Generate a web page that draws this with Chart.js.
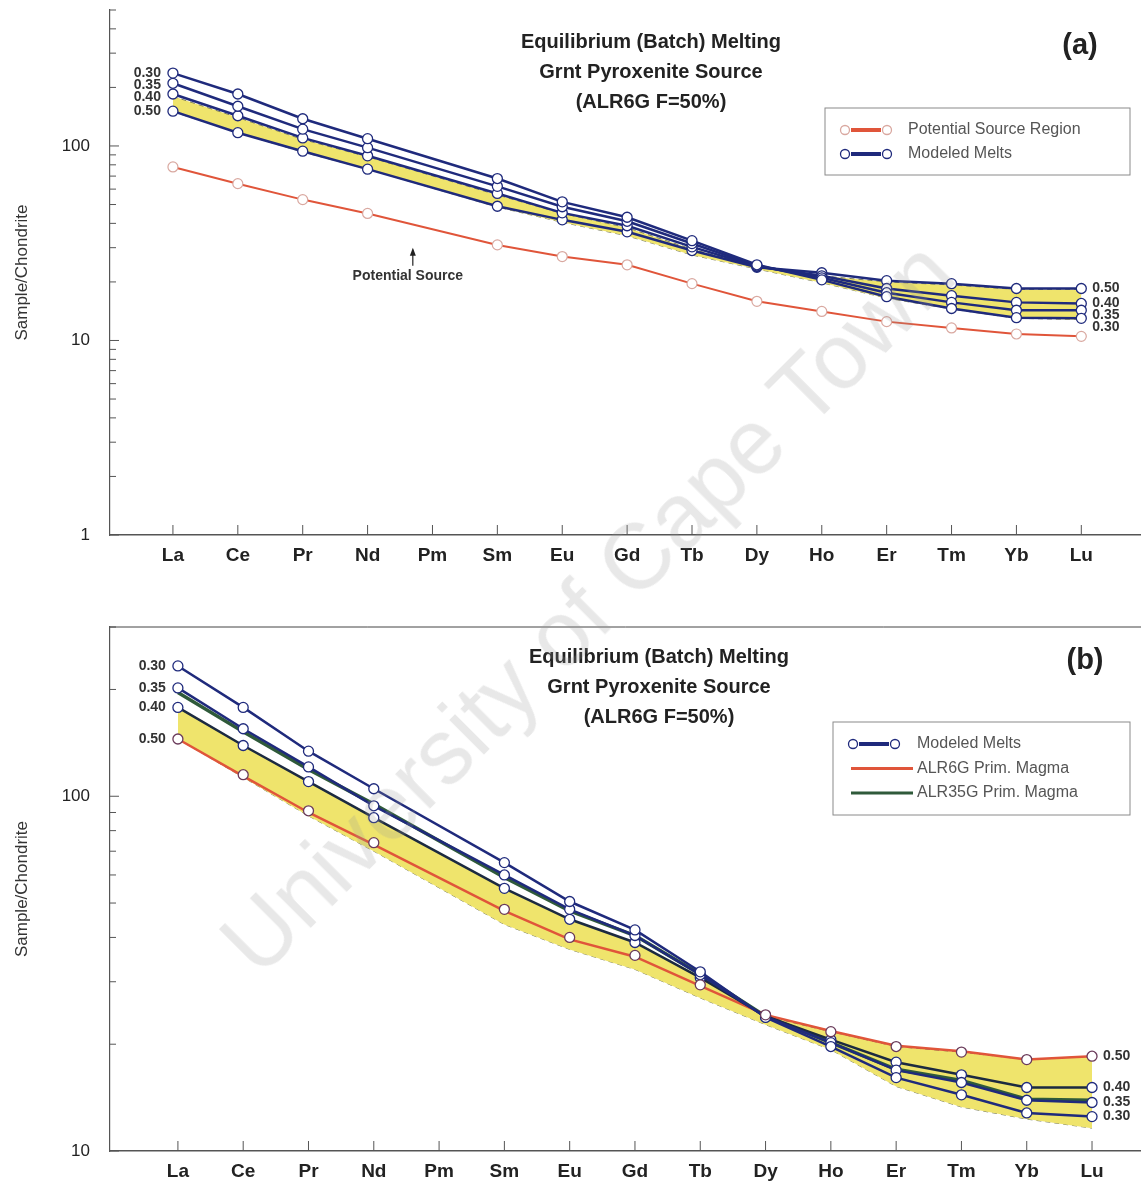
<!DOCTYPE html>
<html>
<head>
<meta charset="utf-8">
<script src="https://cdn.jsdelivr.net/npm/chart.js@4.4.0/dist/chart.umd.min.js"></script>
<style>
  body { margin: 0; background: #fff; }
  #wrap { position: relative; width: 1141px; height: 1182px; overflow: hidden; }
  .panel { position: absolute; left: 0; width: 1141px; }
  #pa { top: 0; height: 590px; }
  #pb { top: 590px; height: 592px; }
  #wm {
    position: absolute; left: 587px; top: 607px;
    transform: translate(-50%, -50%) rotate(-45deg);
    font: 92px "Liberation Sans", Arial, sans-serif;
    color: rgba(150, 150, 150, 0.22);
    white-space: nowrap; pointer-events: none;
  }
</style>
</head>
<body>
<div id="wrap">
  <div class="panel" id="pa"><canvas id="chartA"></canvas></div>
  <div class="panel" id="pb"><canvas id="chartB"></canvas></div>
  <div id="wm">University of Cape Town</div>
</div>
<script>
const elements = ['La', 'Ce', 'Pr', 'Nd', 'Pm', 'Sm', 'Eu', 'Gd', 'Tb', 'Dy', 'Ho', 'Er', 'Tm', 'Yb', 'Lu'];

// panel (a) values, Pm not analysed
const sourceA = [78, 64, 53, 45, null, 31, 27, 24.5, 19.6, 15.9, 14.1, 12.5, 11.6, 10.8, 10.5];
const meltA30 = [237, 185, 138, 109, null, 68, 51.6, 43, 32.6, 24.5, 20.5, 16.8, 14.6, 13.1, 13.0];
const meltA35 = [210, 160, 122, 98, null, 62, 48.7, 41, 31.5, 24.2, 21, 17.6, 15.7, 14.3, 14.3];
const meltA40 = [185, 143, 110, 89, null, 57, 45.3, 38.9, 30.3, 24, 21.5, 18.5, 17, 15.7, 15.5];
const meltA50 = [151, 117, 94, 76, null, 49, 41.7, 36.2, 29, 23.8, 22.3, 20.3, 19.6, 18.5, 18.5];
const fieldAHigh = [180, 140, 108, 88, null, 56, 45, 38, 29.5, 24, 21.5, 20, 19.3, 18.3, 18.3];
const fieldALow = [150, 117, 93, 76, null, 48.5, 40.5, 34.5, 27.5, 23.3, 19.8, 16.5, 14.5, 13, 12.8];

// panel (b) values
const meltB30 = [233, 178, 134, 105, null, 65, 50.5, 42, 32, 23.8, 19.7, 16.1, 14.4, 12.8, 12.5];
const meltB35 = [202, 155, 121, 94, null, 60, 48, 40.5, 31.4, 23.9, 20.2, 16.9, 15.6, 13.9, 13.7];
const meltB40 = [178, 139, 110, 87, null, 55, 45, 38.7, 30.8, 24, 20.6, 17.8, 16.4, 15.1, 15.1];
const meltB50 = [145, 115, 91, 74, null, 48, 40, 35.6, 29.4, 24.2, 21.7, 19.7, 19, 18.1, 18.5];
const alr6g = [145, 114, 90, 73, null, 47.5, 39.5, 35.3, 29.2, 24.2, 21.8, 19.8, 19.1, 18.1, 18.5];
const alr35g = [196, 152, 119, 95, null, 59, 47.5, 40.5, 31.5, 24, 20.2, 17, 15.8, 14, 13.9];
const fieldBHigh = [178, 139, 110, 87, null, 55, 45, 38.7, 30.8, 24, 21.7, 19.7, 19, 18.1, 18.5];
const fieldBLow = [145, 113, 88, 70, null, 43.5, 37, 32.5, 27, 22.7, 19.3, 15.2, 13.3, 12.3, 11.6];

const yTicksA = [1, 2, 3, 4, 5, 6, 7, 8, 9, 10, 20, 30, 40, 50, 60, 70, 80, 90, 100, 200, 300, 400, 500];
const yTicksB = [10, 20, 30, 40, 50, 60, 70, 80, 90, 100, 200, 300];

const FONT = '"Liberation Sans", Arial, sans-serif';
const NAVY = '#1f2a7c';
const RED = '#e0553a';
const GREEN = '#2f5a3a';
const YELLOW = '#efe46c';

const xy = arr => arr.map((v, i) => ({ x: i, y: v }));

function melt(label, arr, extra) {
  return Object.assign({
    label: label, data: xy(arr), borderColor: NAVY, borderWidth: 2.5,
    pointRadius: 5, pointBackgroundColor: '#fff', pointBorderColor: NAVY,
    pointBorderWidth: 1.3, spanGaps: true, tension: 0
  }, extra || {});
}
function field(arr, fill) {
  return {
    data: xy(arr), borderColor: 'rgba(95,100,70,0.8)', borderWidth: 1, borderDash: [5, 4],
    backgroundColor: YELLOW, fill: fill, pointRadius: 0, spanGaps: true
  };
}

// draws tick marks pointing into the plot, the f labels, titles, legend
const decor = {
  id: 'decor',
  afterDraw(chart, args, o) {
    const ctx = chart.ctx, x = chart.scales.x, y = chart.scales.y, ca = chart.chartArea;
    ctx.save();
    ctx.strokeStyle = '#555';
    ctx.lineWidth = 1;
    x.ticks.forEach(t => {
      const px = x.getPixelForValue(t.value);
      ctx.beginPath(); ctx.moveTo(px, ca.bottom); ctx.lineTo(px, ca.bottom - 10); ctx.stroke();
    });
    y.ticks.forEach(t => {
      const py = y.getPixelForValue(t.value);
      const major = Math.log10(t.value) % 1 === 0;
      ctx.beginPath(); ctx.moveTo(ca.left, py); ctx.lineTo(ca.left + (major ? 9 : 6), py); ctx.stroke();
    });
    if (o.topLine) {
      ctx.strokeStyle = '#444';
      ctx.beginPath(); ctx.moveTo(ca.left, ca.top); ctx.lineTo(ca.right, ca.top); ctx.stroke();
    }

    // F labels beside the first and last points
    ctx.fillStyle = '#333';
    ctx.font = 'bold 14px ' + FONT;
    ctx.textBaseline = 'middle';
    const side = (idx, align, dx) => {
      const items = o.fLabels.map(f => ({
        text: f.text,
        py: y.getPixelForValue(chart.data.datasets[f.ds].data[idx].y)
      })).sort((a, b) => a.py - b.py);
      for (let i = 1; i < items.length; i++) {
        if (items[i].py - items[i - 1].py < 12) items[i].py = items[i - 1].py + 12;
      }
      ctx.textAlign = align;
      items.forEach(it => ctx.fillText(it.text, x.getPixelForValue(idx) + dx, it.py));
    };
    side(0, 'right', -12);
    side(elements.length - 1, 'left', 11);

    // titles
    ctx.fillStyle = '#222';
    ctx.textAlign = 'center';
    ctx.font = 'bold 20px ' + FONT;
    o.title.forEach((line, i) => ctx.fillText(line, o.titleX, o.titleY + i * 30));
    ctx.font = 'bold 29px ' + FONT;
    ctx.fillText(o.tag, o.tagX, o.tagY);

    // legend box
    const L = o.legend;
    ctx.strokeStyle = '#8a8a8a';
    ctx.lineWidth = 1;
    ctx.strokeRect(L.x, L.y, L.w, L.h);
    ctx.font = '16px ' + FONT;
    ctx.textAlign = 'left';
    L.items.forEach((it, i) => {
      const yy = L.y + L.first + i * L.step;
      const x0 = L.x + 18;
      ctx.strokeStyle = it.color;
      ctx.lineWidth = it.markers ? 4 : 3;
      ctx.beginPath(); ctx.moveTo(x0 + (it.markers ? 8 : 0), yy); ctx.lineTo(x0 + (it.markers ? 38 : 62), yy); ctx.stroke();
      if (it.markers) {
        ctx.lineWidth = 1.3;
        ctx.strokeStyle = it.ring;
        [x0 + 2, x0 + 44].forEach(cx => {
          ctx.fillStyle = '#fff';
          ctx.beginPath(); ctx.arc(cx, yy, 4.5, 0, Math.PI * 2); ctx.fill(); ctx.stroke();
        });
      }
      ctx.fillStyle = '#555';
      ctx.fillText(it.text, L.x + L.textDx, yy);
    });

    // "Potential Source" note with arrow
    if (o.note) {
      const nx = x.getPixelForValue(o.note.x), ny = y.getPixelForValue(o.note.y);
      ctx.fillStyle = '#333';
      ctx.textAlign = 'center';
      ctx.font = 'bold 14px ' + FONT;
      ctx.fillText(o.note.text, nx, ny);
      ctx.strokeStyle = '#222'; ctx.lineWidth = 1.2;
      ctx.beginPath(); ctx.moveTo(nx + 5, ny - 10); ctx.lineTo(nx + 5, ny - 26); ctx.stroke();
      ctx.fillStyle = '#222';
      ctx.beginPath(); ctx.moveTo(nx + 5, ny - 28); ctx.lineTo(nx + 2, ny - 20); ctx.lineTo(nx + 8, ny - 20); ctx.fill();
    }
    ctx.restore();
  }
};

function axes(xmin, xmax, ymin, ymax, ticks, xh) {
  return {
    x: {
      type: 'linear', min: xmin, max: xmax,
      afterBuildTicks: s => { s.ticks = elements.map((e, i) => ({ value: i })); },
      afterFit: s => { s.height = xh; s.paddingLeft = 0; s.paddingRight = 0; },
      grid: { display: false, drawTicks: false },
      border: { color: '#555', width: 1.5 },
      ticks: { callback: v => elements[v], color: '#222', padding: 9, font: { family: FONT, size: 19, weight: 'bold' } }
    },
    y: {
      type: 'logarithmic', min: ymin, max: ymax,
      afterBuildTicks: s => { s.ticks = ticks.map(v => ({ value: v })); },
      afterFit: s => { s.width = 110; s.paddingTop = 0; s.paddingBottom = 0; },
      grid: { display: false, drawTicks: false },
      border: { color: '#555', width: 1.2 },
      ticks: {
        callback: v => (Math.log10(v) % 1 === 0 ? String(v) : ''),
        color: '#222', padding: 20, autoSkip: false,
        font: { family: FONT, size: 17 }
      },
      title: { display: true, text: 'Sample/Chondrite', color: '#333', padding: { top: 12, bottom: 0 }, font: { family: FONT, size: 17 } }
    }
  };
}

const titleLines = ['Equilibrium (Batch) Melting', 'Grnt Pyroxenite Source', '(ALR6G F=50%)'];

new Chart(document.getElementById('chartA'), {
  type: 'line',
  data: {
    datasets: [
      melt('0.30', meltA30), melt('0.35', meltA35), melt('0.40', meltA40), melt('0.50', meltA50),
      { label: 'Potential Source Region', data: xy(sourceA), borderColor: RED, borderWidth: 2,
        pointRadius: 5, pointBackgroundColor: '#fff', pointBorderColor: '#d9a8a0', pointBorderWidth: 1.2, spanGaps: true },
      field(fieldAHigh, '+1'), field(fieldALow, false)
    ]
  },
  options: {
    responsive: true, maintainAspectRatio: false, animation: false,
    layout: { autoPadding: false, padding: { top: 10, right: 0, left: 0, bottom: 0 } },
    scales: axes(-0.97, 14.92, 1, 500, yTicksA, 55),
    plugins: {
      legend: { display: false }, tooltip: { enabled: false },
      decor: {
        fLabels: [{ text: '0.30', ds: 0 }, { text: '0.35', ds: 1 }, { text: '0.40', ds: 2 }, { text: '0.50', ds: 3 }],
        title: titleLines, titleX: 651, titleY: 42, tag: '(a)', tagX: 1080, tagY: 46,
        legend: { x: 825, y: 108, w: 305, h: 67, first: 22, step: 24, textDx: 83,
          items: [{ text: 'Potential Source Region', color: RED, ring: '#d9a8a0', markers: true },
                  { text: 'Modeled Melts', color: NAVY, ring: NAVY, markers: true }] },
        note: { text: 'Potential Source', x: 3.62, y: 21.5 }
      }
    }
  },
  plugins: [decor]
});

new Chart(document.getElementById('chartB'), {
  type: 'line',
  data: {
    datasets: [
      melt('0.50', meltB50, { showLine: false, pointBorderColor: '#6a3a5a' }),
      melt('0.30', meltB30), melt('0.35', meltB35), melt('0.40', meltB40, { borderColor: '#1c2a40' }),
      { label: 'ALR6G Prim. Magma', data: xy(alr6g), borderColor: RED, borderWidth: 2.5, pointRadius: 0, spanGaps: true },
      { label: 'ALR35G Prim. Magma', data: xy(alr35g), borderColor: GREEN, borderWidth: 3.5, pointRadius: 0, spanGaps: true },
      field(fieldBHigh, '+1'), field(fieldBLow, false)
    ]
  },
  options: {
    responsive: true, maintainAspectRatio: false, animation: false,
    layout: { autoPadding: false, padding: { top: 37, right: 0, left: 0, bottom: 0 } },
    scales: axes(-1.04, 14.75, 10, 300, yTicksB, 31),
    plugins: {
      legend: { display: false }, tooltip: { enabled: false },
      decor: {
        topLine: true,
        fLabels: [{ text: '0.30', ds: 1 }, { text: '0.35', ds: 2 }, { text: '0.40', ds: 3 }, { text: '0.50', ds: 0 }],
        title: titleLines, titleX: 659, titleY: 67, tag: '(b)', tagX: 1085, tagY: 71,
        legend: { x: 833, y: 132, w: 297, h: 93, first: 22, step: 24.5, textDx: 84,
          items: [{ text: 'Modeled Melts', color: NAVY, ring: NAVY, markers: true },
                  { text: 'ALR6G Prim. Magma', color: RED },
                  { text: 'ALR35G Prim. Magma', color: GREEN }] }
      }
    }
  },
  plugins: [decor]
});
</script>
</body>
</html>
